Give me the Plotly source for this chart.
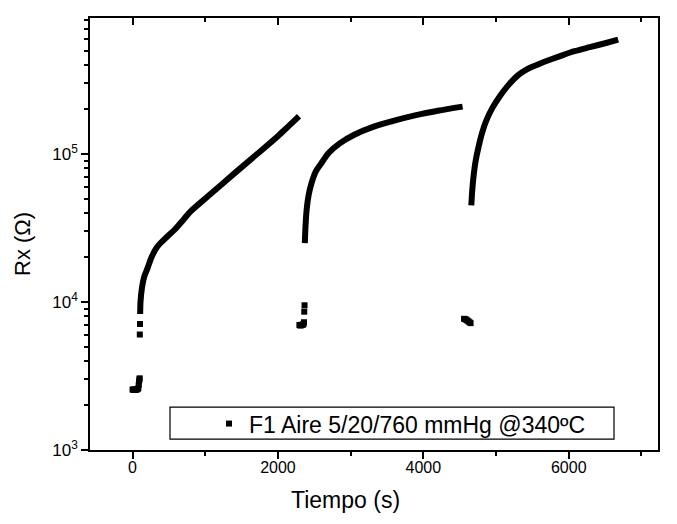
import plotly.graph_objects as go

# ---------------- data ----------------
# scattered low-resistance points (square markers)
t_low1 = [0, 10, 20, 30, 40, 50, 60, 70, 80, 85, 90, 95, 98]
r_low1 = [2560, 2560, 2550, 2550, 2560, 2560, 2570, 2580, 2620, 2750, 2900, 3000, 3050]
t_jump1 = [100, 103]
r_jump1 = [6030, 7100]

t_low2 = [2295, 2305, 2315, 2325, 2335, 2345, 2352, 2358, 2362, 2366]
r_low2 = [7000, 6950, 6950, 7000, 7000, 7050, 7100, 7300, 8600, 9500]

t_low3 = [4560, 4575, 4590, 4605, 4620, 4635, 4650]
r_low3 = [7700, 7650, 7600, 7500, 7400, 7300, 7200]

# continuous recovery curves (dense markers in the original)
t_rise1 = [105, 110, 130, 160, 204, 260, 340, 430, 585, 700, 789, 1061, 1401, 1714, 2014, 2150, 2290]
r_rise1 = [8300, 10100, 12500, 14800, 16800, 20000, 23600, 26300, 31000, 36000, 40500,
           53000, 74000, 100000, 134000, 155000, 180000]

t_rise2 = [2370, 2380, 2395, 2420, 2460, 2520, 2600, 2700, 2850, 3050, 3300, 3600, 3900, 4200, 4540]
r_rise2 = [25000, 33000, 42000, 52000, 63000, 76000, 87000, 102000, 118000, 135000,
           152000, 168000, 183000, 196000, 209000]

t_rise3 = [4660, 4672, 4690, 4720, 4760, 4810, 4870, 4950, 5050, 5170, 5300, 5430,
           5560, 5640, 5760, 5930, 6080, 6290, 6500, 6680]
r_rise3 = [45000, 56000, 70000, 90000, 112000, 140000, 170000, 205000, 245000, 292000,
           340000, 375000, 400000, 415000, 437000, 468000, 495000, 527000, 560000, 592000]

x_ticks = [0, 2000, 4000, 6000]
x_minor = [1000, 3000, 5000, 7000]
y_ticks = [1e3, 1e4, 1e5]
y_ticktext = ["10<sup>3</sup>", "10<sup>4</sup>", "10<sup>5</sup>"]
y_minor = [m * 10 ** e for e in (3, 4, 5) for m in range(2, 10) if m * 10 ** e < 8.3e5]

legend_name = "F1 Aire 5/20/760 mmHg @340ºC"

# ---------------- figure ----------------
FONT = "Arial, Liberation Sans, sans-serif"
W, H = 677, 524
L, R, T, B = 82, 27, 8, 82
pw, ph = W - L - R, H - T - B
PX_PER_UNIT = 0.0727
xmin = -585
xmax = xmin + pw / PX_PER_UNIT

def px(xp):
    return (xp - L) / pw

def py(yp):
    return (H - B - yp) / ph

fig = go.Figure()

t_curve = t_rise1 + [None] + t_rise2 + [None] + t_rise3
r_curve = r_rise1 + [None] + r_rise2 + [None] + r_rise3
fig.add_trace(go.Scatter(x=t_curve, y=r_curve, mode="lines",
                         line=dict(color="black", width=6, shape="spline", smoothing=0.8),
                         showlegend=False, hoverinfo="skip"))

t_dots = t_low1 + [None] + t_jump1 + [None] + t_low2 + [None] + t_low3
r_dots = r_low1 + [None] + r_jump1 + [None] + r_low2 + [None] + r_low3
fig.add_trace(go.Scatter(x=t_dots, y=r_dots, mode="markers", name=legend_name,
                         marker=dict(symbol="square", size=6, color="black",
                                     line=dict(width=0))))

# invisible trace to activate the top (mirror) axis
fig.add_trace(go.Scatter(x=t_low1[:1], y=r_low1[:1], xaxis="x2", mode="markers",
                         marker=dict(opacity=0), showlegend=False, hoverinfo="skip"))

axis_common = dict(showgrid=False, zeroline=False, linecolor="black",
                   tickcolor="black", tickwidth=1.5)

fig.update_layout(
    width=W, height=H,
    margin=dict(l=L, r=R, t=T, b=B, pad=0),
    paper_bgcolor="white", plot_bgcolor="white",
    font=dict(family=FONT, color="black", size=16),
    xaxis=dict(range=[xmin, xmax], tickmode="array", tickvals=x_ticks,
               ticks="outside", ticklen=7, showline=True, linewidth=1.6, mirror=True,
               tickfont=dict(size=16), ticklabelstandoff=-5,
               minor=dict(tickmode="array", tickvals=x_minor, ticks="outside",
                          ticklen=4, tickwidth=1.5, tickcolor="black"),
               **axis_common),
    xaxis2=dict(range=[xmin, xmax], overlaying="x", side="top", tickmode="array",
                tickvals=x_ticks, ticks="inside", ticklen=7, showticklabels=False,
                showline=False,
                minor=dict(tickmode="array", tickvals=x_minor, ticks="inside",
                           ticklen=4, tickwidth=1.5, tickcolor="black"),
                **axis_common),
    yaxis=dict(type="log", range=[3, 5.919], tickmode="array", tickvals=y_ticks,
               ticktext=y_ticktext, ticks="outside", ticklen=7, showline=True,
               linewidth=1.6, mirror=True, tickfont=dict(size=17),
               minor=dict(tickmode="array", tickvals=y_minor, ticks="outside",
                          ticklen=4, tickwidth=1.5, tickcolor="black"),
               **axis_common),
    showlegend=True,
    legend=dict(x=px(201), y=py(415.5), xanchor="left", yanchor="middle",
                bgcolor="rgba(0,0,0,0)", borderwidth=0, itemwidth=30,
                font=dict(size=23, family=FONT)),
    shapes=[dict(type="rect", xref="paper", yref="paper",
                 x0=px(162), x1=px(606), y0=py(431), y1=py(399),
                 line=dict(color="black", width=1.2), fillcolor="white", layer="below")],
    annotations=[
        dict(text="Tiempo (s)", xref="paper", yref="paper",
             x=px(337), y=py(492), xanchor="center", yanchor="middle",
             showarrow=False, font=dict(size=23, family=FONT)),
        dict(text="Rx (Ω)", xref="paper", yref="paper", textangle=-90,
             x=px(15), y=py(235), xanchor="center", yanchor="middle",
             showarrow=False, font=dict(size=22, family=FONT)),
    ],
)

fig.write_html("out.html")
